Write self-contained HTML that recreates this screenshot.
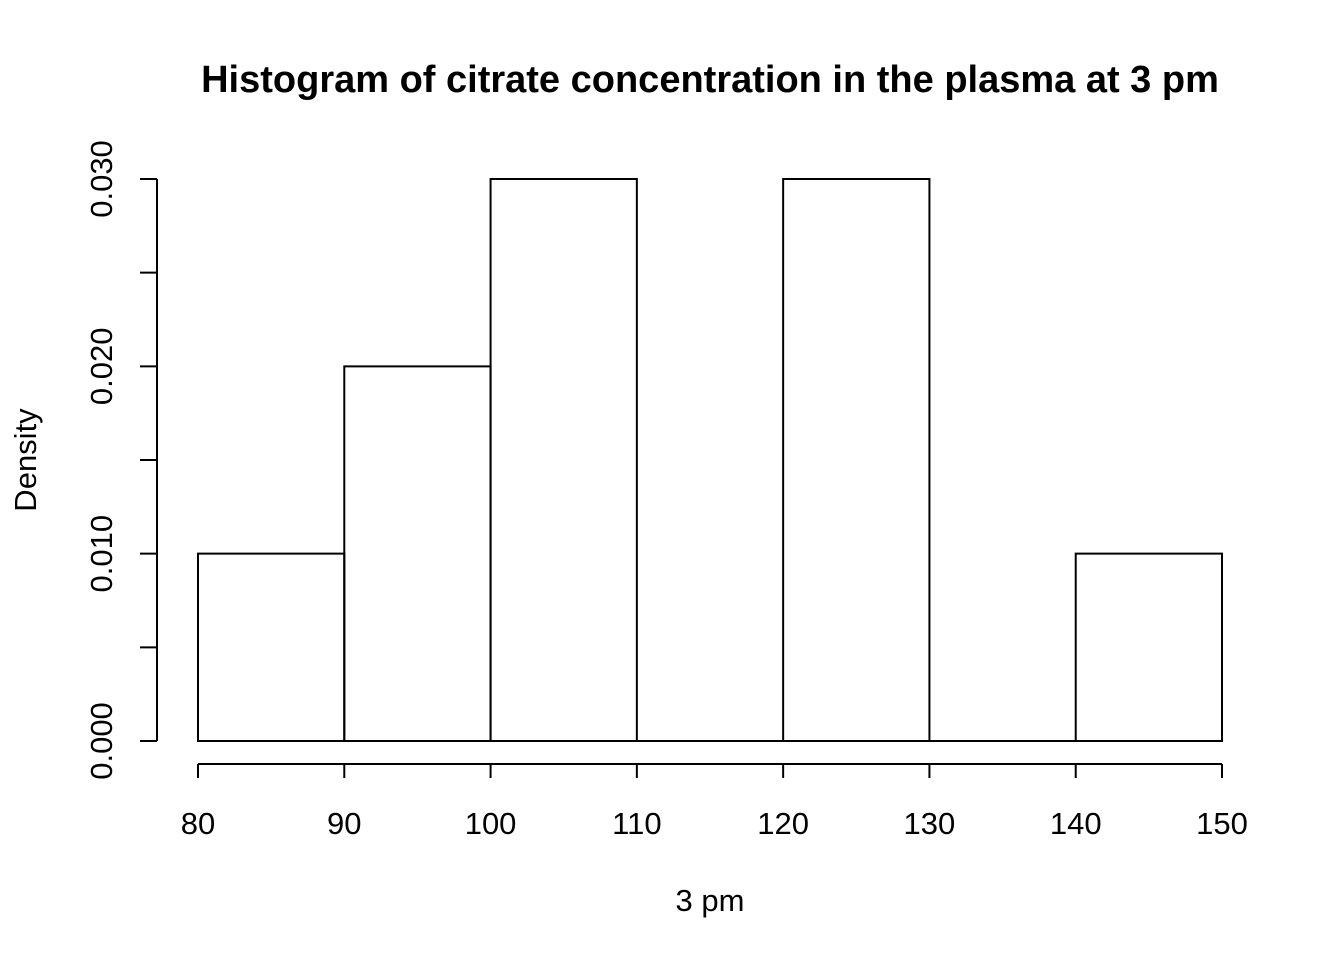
<!DOCTYPE html>
<html><head><meta charset="utf-8"><style>
body{margin:0;background:#fff}
svg text{font-family:"Liberation Sans",Arial,sans-serif;fill:#000}
</style></head><body>
<svg id="chart" width="1344" height="960" xmlns="http://www.w3.org/2000/svg">
<text x="710" y="92" text-anchor="middle" font-size="38" font-weight="bold">Histogram of citrate concentration in the plasma at 3 pm</text>
<text x="710" y="911" text-anchor="middle" font-size="31">3 pm</text>
<text transform="translate(36,460) rotate(-90)" text-anchor="middle" font-size="31">Density</text>
<g id="bars"></g><g id="xaxis"></g><g id="yaxis"></g>
</svg>
<script>
const binEdges=[80,90,100,110,120,130,140,150];
const densities=[0.01,0.02,0.03,0,0.03,0,0.01];
const xTicks=[80,90,100,110,120,130,140,150];
const yTicks=[0,0.005,0.01,0.015,0.02,0.025,0.03];
const yLabels=["0.000","","0.010","","0.020","","0.030"];
const NS="http://www.w3.org/2000/svg";
const xs=v=>198+(v-80)*(1222-198)/70;
const ys=v=>741-v*(741-179)/0.03;
function mk(t,a,p){const e=document.createElementNS(NS,t);for(const k in a)e.setAttribute(k,a[k]);p.appendChild(e);return e;}
const bars=document.getElementById('bars');
densities.forEach((d,i)=>{
 const x0=xs(binEdges[i]),x1=xs(binEdges[i+1]);
 const r=mk('path',{d:`M${x0},${ys(0)}V${ys(d)}H${x1}V${ys(0)}Z`,fill:'none',stroke:'#000','stroke-width':2},bars);
 
 
});
const xa=document.getElementById('xaxis');


mk('line',{x1:xs(xTicks[0]),x2:xs(xTicks[xTicks.length-1]),y1:764,y2:764,stroke:'#000','stroke-width':2},xa);
xTicks.forEach(v=>{
 mk('line',{x1:xs(v),x2:xs(v),y1:764,y2:778,stroke:'#000','stroke-width':2},xa);
 const t=mk('text',{x:xs(v),y:834,'text-anchor':'middle','font-size':31},xa);t.textContent=v;
 
 
});
const ya=document.getElementById('yaxis');


mk('line',{x1:157,x2:157,y1:ys(yTicks[yTicks.length-1]),y2:ys(yTicks[0]),stroke:'#000','stroke-width':2},ya);
yTicks.forEach((v,i)=>{
 mk('line',{x1:157,x2:140,y1:ys(v),y2:ys(v),stroke:'#000','stroke-width':2},ya);
 if(yLabels[i]){const t=mk('text',{transform:`translate(112,${ys(v)}) rotate(-90)`,'text-anchor':'middle','font-size':31},ya);t.textContent=yLabels[i];
 
 }
});
</script>
</body></html>
